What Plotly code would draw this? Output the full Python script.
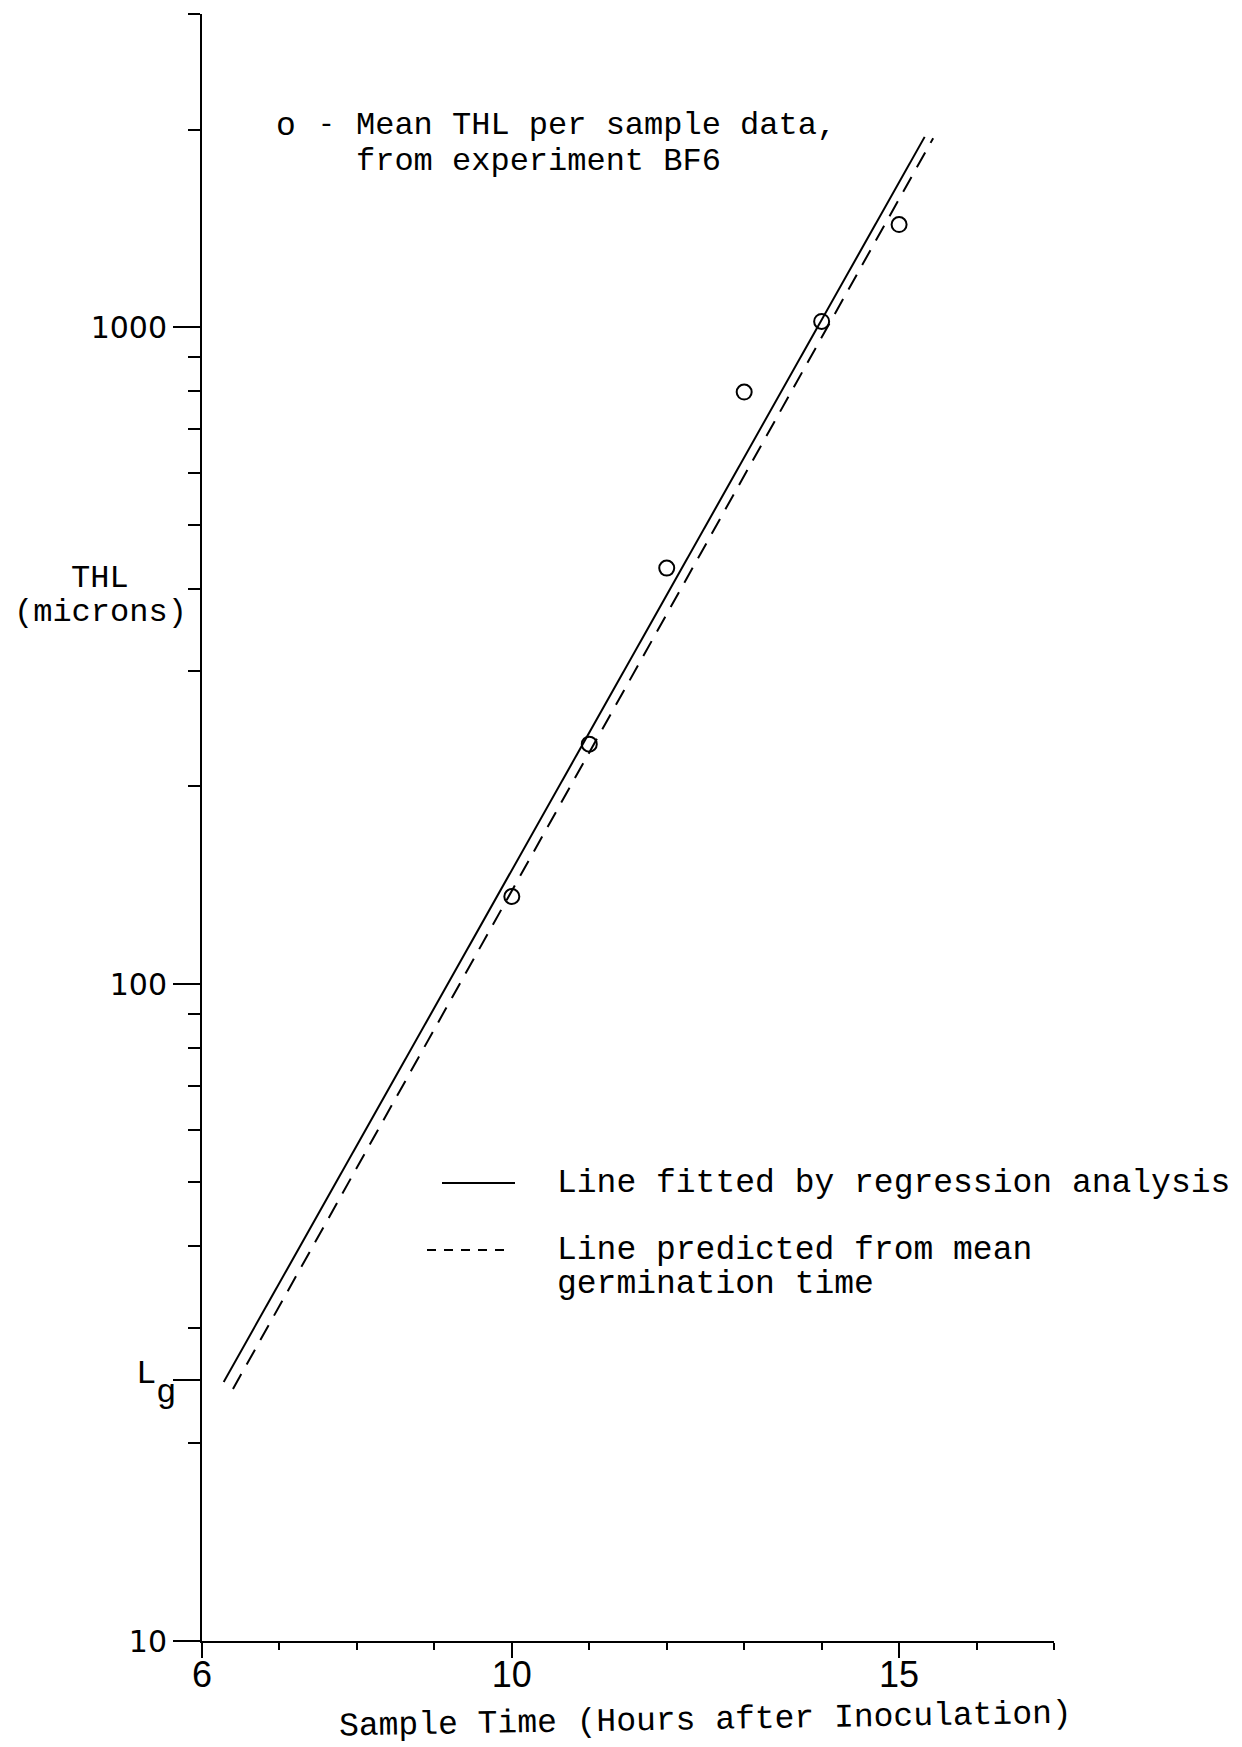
import math
import plotly.graph_objects as go

# ---------------- data ----------------
hours = [10, 11, 12, 13, 14, 15]                 # sample times (h)
thl = [136, 232, 430, 797, 1021, 1434]           # mean THL per sample (microns)

fit_hours = [6.28, 15.33]                        # regression line end points
fit_thl = [24.8, 1950]
pred_hours = [6.40, 15.44]                       # predicted line end points
pred_thl = [24.2, 1941]

x_major = [6, 10, 15]
x_major_labels = ["6", "10", "15"]
x_minor = [7, 8, 9, 11, 12, 13, 14, 16, 17]

lg_value = 25
y_major = [10, lg_value, 100, 1000]
y_major_labels = ["10", " ", "100", "1000"]
y_minor = [20, 30, 40, 50, 60, 70, 80, 90,
           200, 300, 400, 500, 600, 700, 800, 900, 2000, 3000]

x_range = [6, 17]
y_range = [10, 3000]

# ---------------- layout geometry ----------------
W, H = 1242, 1747
ML, MR, MT, MB = 202, 188, 14, 106
PW, PH = W - ML - MR, H - MT - MB

def px(x):
    return (x - ML) / PW

def py(y):
    return (H - MB - y) / PH

MONO = "Liberation Mono"
INK = "black"

fig = go.Figure()

fig.add_trace(go.Scatter(
    x=fit_hours, y=fit_thl, mode="lines",
    line=dict(color=INK, width=2), showlegend=False, hoverinfo="skip"))
fig.add_trace(go.Scatter(
    x=pred_hours, y=pred_thl, mode="lines",
    line=dict(color=INK, width=2, dash="17px,11px"), showlegend=False, hoverinfo="skip"))
fig.add_trace(go.Scatter(
    x=hours, y=thl, mode="markers",
    marker=dict(symbol="circle-open", size=15, color=INK, line=dict(width=2, color=INK)),
    showlegend=False))

fig.update_xaxes(
    range=x_range, showline=True, linewidth=2, linecolor=INK,
    showgrid=False, zeroline=False,
    tickmode="array", tickvals=x_major, ticktext=x_major_labels,
    ticks="outside", ticklen=15, tickwidth=2, tickcolor=INK,
    ticklabelstandoff=-14,
    tickfont=dict(family="Liberation Sans", size=36, color=INK),
    minor=dict(tickmode="array", tickvals=x_minor, ticks="outside",
               ticklen=7, tickwidth=2, tickcolor=INK, showgrid=False),
)
fig.update_yaxes(
    type="log", range=[math.log10(y_range[0]), math.log10(y_range[1])],
    showline=True, linewidth=2, linecolor=INK,
    showgrid=False, zeroline=False,
    tickmode="array", tickvals=y_major, ticktext=y_major_labels,
    ticks="outside", ticklen=27, tickwidth=2, tickcolor=INK,
    tickfont=dict(family="DejaVu Sans", size=30, color=INK),
    minor=dict(tickmode="array", tickvals=y_minor, ticks="outside",
               ticklen=12, tickwidth=2, tickcolor=INK, showgrid=False),
)

ann = []

def text(x, y, s, size=32, anchor="center", family=MONO, angle=0):
    ann.append(dict(x=px(x), y=py(y), xref="paper", yref="paper", text=s,
                    showarrow=False, xanchor=anchor, yanchor="middle",
                    textangle=angle,
                    font=dict(family=family, size=size, color=INK)))

# Lg label
text(146, 1374, "L", size=34)
text(166, 1393, "g", size=34)

# axis titles
text(100, 579, "THL", size=32)
text(100, 613, "(microns)", size=32)
text(705, 1720, "Sample Time (Hours after Inoculation)", size=33, angle=-1.0)

# top key
text(286, 127, "o", size=33)
text(326, 125, "-", size=28)
text(354, 126, "Mean THL per sample data,", size=32, anchor="left")
text(354, 161, "from experiment BF6", size=32, anchor="left")

# lower key
text(555, 1183, "Line fitted by regression analysis", size=33, anchor="left")
text(555, 1250, "Line predicted from mean", size=33, anchor="left")
text(555, 1284, "germination time", size=33, anchor="left")

shapes = [
    dict(type="line", xref="paper", yref="paper",
         x0=px(442), x1=px(515), y0=py(1183), y1=py(1183),
         line=dict(color=INK, width=2)),
    dict(type="line", xref="paper", yref="paper",
         x0=px(427), x1=px(512), y0=py(1250), y1=py(1250),
         line=dict(color=INK, width=2, dash="9px,8px")),
]

fig.update_layout(
    width=W, height=H, autosize=False,
    margin=dict(l=ML, r=MR, t=MT, b=MB, pad=0),
    paper_bgcolor="white", plot_bgcolor="white",
    annotations=ann, shapes=shapes, showlegend=False,
)

fig.write_html("out.html")
